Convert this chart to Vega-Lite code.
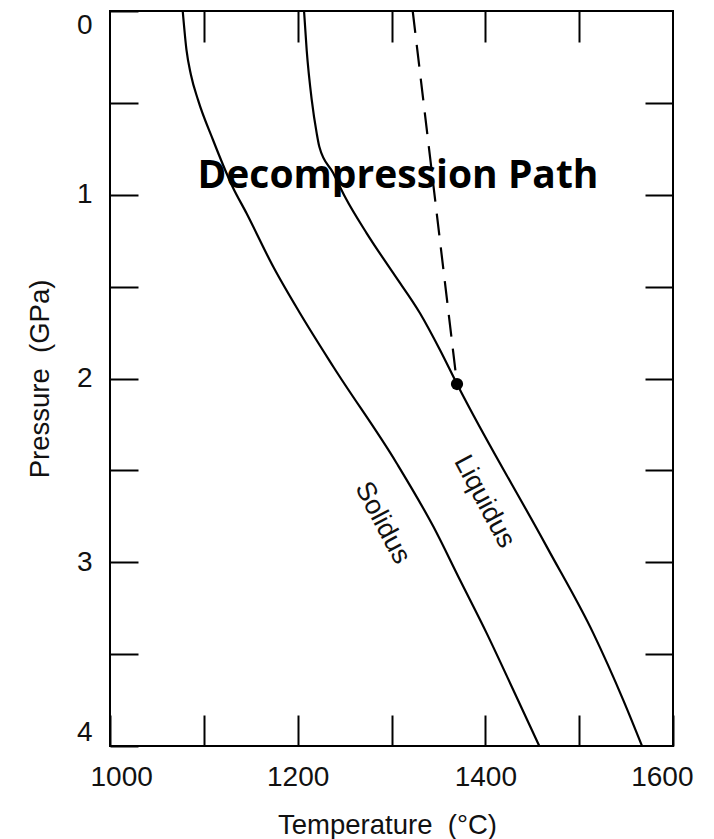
{
  "$schema": "https://vega.github.io/schema/vega-lite/v6.json",
  "width": 563,
  "height": 735,
  "autosize": {"type": "none"},
  "padding": {"left": 110, "top": 11, "right": 41, "bottom": 93},
  "background": "white",
  "config": {
    "view": {"stroke": "black", "strokeWidth": 2},
    "font": "Liberation Sans"
  },
  "datasets": {
    "boundaries": [
      {"curve": "Solidus", "T": 1077.5, "P": 0.0},
      {"curve": "Solidus", "T": 1081.5, "P": 0.212},
      {"curve": "Solidus", "T": 1086.3, "P": 0.348},
      {"curve": "Solidus", "T": 1093.8, "P": 0.484},
      {"curve": "Solidus", "T": 1109.8, "P": 0.702},
      {"curve": "Solidus", "T": 1130.6, "P": 0.956},
      {"curve": "Solidus", "T": 1145.5, "P": 1.101},
      {"curve": "Solidus", "T": 1174.0, "P": 1.392},
      {"curve": "Solidus", "T": 1202.5, "P": 1.645},
      {"curve": "Solidus", "T": 1238.0, "P": 1.936},
      {"curve": "Solidus", "T": 1305.5, "P": 2.461},
      {"curve": "Solidus", "T": 1344.6, "P": 2.806},
      {"curve": "Solidus", "T": 1373.0, "P": 3.097},
      {"curve": "Solidus", "T": 1401.5, "P": 3.387},
      {"curve": "Solidus", "T": 1429.8, "P": 3.695},
      {"curve": "Solidus", "T": 1457.5, "P": 4.0},
      {"curve": "Liquidus", "T": 1206.8, "P": 0.0},
      {"curve": "Liquidus", "T": 1209.6, "P": 0.212},
      {"curve": "Liquidus", "T": 1215.0, "P": 0.484},
      {"curve": "Liquidus", "T": 1220.3, "P": 0.666},
      {"curve": "Liquidus", "T": 1223.1, "P": 0.739},
      {"curve": "Liquidus", "T": 1238.0, "P": 0.883},
      {"curve": "Liquidus", "T": 1250.4, "P": 1.011},
      {"curve": "Liquidus", "T": 1273.6, "P": 1.21},
      {"curve": "Liquidus", "T": 1301.9, "P": 1.427},
      {"curve": "Liquidus", "T": 1330.4, "P": 1.645},
      {"curve": "Liquidus", "T": 1351.7, "P": 1.845},
      {"curve": "Liquidus", "T": 1369.8, "P": 2.03},
      {"curve": "Liquidus", "T": 1465.4, "P": 2.915},
      {"curve": "Liquidus", "T": 1515.1, "P": 3.387},
      {"curve": "Liquidus", "T": 1547.0, "P": 3.75},
      {"curve": "Liquidus", "T": 1567.0, "P": 4.0}
    ],
    "path": [
      {"T": 1322.6, "P": 0.0},
      {"T": 1369.8, "P": 2.03}
    ],
    "start": [
      {"T": 1369.8, "P": 2.03}
    ],
    "title": [
      {"T": 1306.9, "P": 0.963, "text": "Decompression Path"}
    ],
    "curveLabels": [
      {"T": 1290.4, "P": 2.786, "text": "Solidus"},
      {"T": 1399.1, "P": 2.67, "text": "Liquidus"}
    ]
  },
  "layer": [
    {
      "data": {"name": "boundaries"},
      "mark": {"type": "line", "color": "black", "strokeWidth": 2.2, "interpolate": "monotone"},
      "encoding": {
        "x": {
          "field": "T",
          "type": "quantitative",
          "scale": {"domain": [1000, 1600], "nice": false, "zero": false},
          "axis": {
            "orient": "bottom",
            "values": [1000, 1100, 1200, 1300, 1400, 1500, 1600],
            "labelExpr": "datum.value % 200 === 0 ? format(datum.value, 'd') : ''",
            "tickSize": -31,
            "tickWidth": 2,
            "tickColor": "black",
            "domain": false,
            "grid": false,
            "labelFont": "Liberation Sans",
            "labelFontSize": 28,
            "labelColor": "#111",
            "labelPadding": 70,
            "labelBaseline": "alphabetic",
            "labelFlush": true,
            "labelFlushOffset": 20,
            "labelOverlap": false,
            "title": "Temperature \u00a0(°C)",
            "titleFont": "Liberation Sans",
            "titleFontSize": 27.5,
            "titleFontWeight": "normal",
            "titleColor": "#111",
            "titleX": 277,
            "titleY": 87,
            "titleBaseline": "alphabetic",
            "titleAlign": "center"
          }
        },
        "y": {
          "field": "P",
          "type": "quantitative",
          "scale": {"domain": [0, 4], "reverse": true, "nice": false, "zero": false},
          "axis": {
            "orient": "left",
            "values": [0, 0.5, 1, 1.5, 2, 2.5, 3, 3.5, 4],
            "labelExpr": "datum.value % 1 === 0 ? format(datum.value, 'd') : ''",
            "tickSize": -28,
            "tickWidth": 2,
            "tickColor": "black",
            "domain": false,
            "grid": false,
            "labelFont": "Liberation Sans",
            "labelFontSize": 28,
            "labelColor": "#111",
            "labelPadding": 46,
            "labelAlign": "right",
            "labelFlush": true,
            "labelOverlap": false,
            "title": "Pressure \u00a0(GPa)",
            "titleFont": "Liberation Sans",
            "titleFontSize": 27.5,
            "titleFontWeight": "normal",
            "titleColor": "#111",
            "titleAngle": -90,
            "titleX": -62,
            "titleY": 367.5,
            "titleBaseline": "alphabetic",
            "titleAlign": "center"
          }
        },
        "detail": {"field": "curve"},
        "order": {"field": "P"}
      }
    },
    {
      "data": {"name": "path"},
      "mark": {"type": "line", "color": "black", "strokeWidth": 2.2, "strokeDash": [22, 12]},
      "encoding": {
        "x": {
          "field": "T",
          "type": "quantitative",
          "axis": {
            "orient": "top",
            "values": [1100, 1200, 1300, 1400, 1500],
            "tickSize": -31,
            "tickWidth": 2,
            "tickColor": "black",
            "domain": false,
            "grid": false,
            "labels": false,
            "title": null
          }
        },
        "y": {
          "field": "P",
          "type": "quantitative",
          "axis": {
            "orient": "right",
            "values": [0.5, 1, 1.5, 2, 2.5, 3, 3.5],
            "tickSize": -28,
            "tickWidth": 2,
            "tickColor": "black",
            "domain": false,
            "grid": false,
            "labels": false,
            "title": null
          }
        },
        "order": {"field": "P"}
      }
    },
    {
      "data": {"name": "start"},
      "mark": {"type": "point", "filled": true, "color": "black", "opacity": 1, "size": 150},
      "encoding": {
        "x": {"field": "T", "type": "quantitative", "axis": null},
        "y": {"field": "P", "type": "quantitative", "axis": null}
      }
    },
    {
      "data": {"name": "title"},
      "mark": {
        "type": "text",
        "font": "Open Sans",
        "fontWeight": "bold",
        "fontSize": 39,
        "color": "black",
        "align": "center",
        "baseline": "alphabetic"
      },
      "encoding": {
        "x": {"field": "T", "type": "quantitative", "axis": null},
        "y": {"field": "P", "type": "quantitative", "axis": null},
        "text": {"field": "text"}
      }
    },
    {
      "data": {"name": "curveLabels"},
      "mark": {
        "type": "text",
        "font": "Liberation Sans",
        "fontSize": 27,
        "color": "#111",
        "angle": 62,
        "align": "center",
        "baseline": "middle"
      },
      "encoding": {
        "x": {"field": "T", "type": "quantitative", "axis": null},
        "y": {"field": "P", "type": "quantitative", "axis": null},
        "text": {"field": "text"}
      }
    }
  ],
  "resolve": {"axis": {"x": "independent", "y": "independent"}}
}
